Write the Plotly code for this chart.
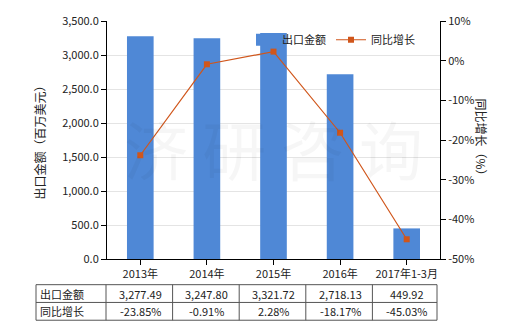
import plotly.graph_objects as go

categories = ["2013年", "2014年", "2015年", "2016年", "2017年1-3月"]
export_values = [3277.49, 3247.80, 3321.72, 2718.13, 449.92]
growth_values = [-23.85, -0.91, 2.28, -18.17, -45.03]
export_labels = ["3,277.49", "3,247.80", "3,321.72", "2,718.13", "449.92"]
growth_labels = ["-23.85%", "-0.91%", "2.28%", "-18.17%", "-45.03%"]
y_ticks = [0, 500, 1000, 1500, 2000, 2500, 3000, 3500]
y_tick_text = ["0.0", "500.0", "1,000.0", "1,500.0", "2,000.0", "2,500.0", "3,000.0", "3,500.0"]
y2_ticks = [-50, -40, -30, -20, -10, 0, 10]
y2_tick_text = ["-50%", "-40%", "-30%", "-20%", "-10%", "0%", "10%"]
row_names = ["出口金额", "同比增长"]

FONT = "Noto Sans CJK SC"
W, H = 520, 330
ML, MR, MT, MB = 107, 80, 18, 71
pw, ph = W - ML - MR, H - MT - MB

def px_x(x):
    return (x - ML) / pw

def px_y(y):
    return 1 - (y - MT) / ph

fig = go.Figure()
fig.add_trace(go.Bar(x=categories, y=export_values, name="出口金额",
                     marker=dict(color="#4f88d6", line=dict(width=0)),
                     width=0.4, yaxis="y"))
fig.add_trace(go.Scatter(x=categories, y=growth_values, name="同比增长",
                         mode="lines+markers", yaxis="y2",
                         line=dict(color="#d0561b", width=1.2),
                         marker=dict(symbol="square", size=6, color="#d0561b")))

shapes = []
annotations = []
tx0, tx1 = 36, 437
col_first = 106
rows_y = [285, 303, 321]
line_col = "#555555"
for yy in rows_y:
    shapes.append(dict(type="line", xref="paper", yref="paper",
                       x0=px_x(tx0), x1=px_x(tx1), y0=px_y(yy), y1=px_y(yy),
                       line=dict(color=line_col, width=1)))
col_lines = [tx0, col_first] + [col_first + pw * (i + 1) / len(categories) for i in range(len(categories) - 1)] + [tx1]
for xx in col_lines:
    shapes.append(dict(type="line", xref="paper", yref="paper",
                       x0=px_x(xx), x1=px_x(xx), y0=px_y(rows_y[0]), y1=px_y(rows_y[-1]),
                       line=dict(color=line_col, width=1)))

for r, (name, labels) in enumerate(zip(row_names, [export_labels, growth_labels])):
    yc = px_y((rows_y[r] + rows_y[r + 1]) / 2)
    annotations.append(dict(x=px_x(tx0 + 2), y=yc, xref="paper", yref="paper",
                            text=name, showarrow=False, xanchor="left", yanchor="middle",
                            font=dict(size=11, color="#222", family=FONT)))
    for c, lab in zip(categories, labels):
        annotations.append(dict(x=c, y=yc, xref="x", yref="paper", text=lab,
                                showarrow=False, xanchor="center", yanchor="middle",
                                font=dict(size=11, color="#222", family=FONT)))

annotations.append(dict(x=px_x(28), y=0.5, xref="paper", yref="paper",
                        text="出口金额（百万美元）", textangle=-90, showarrow=False,
                        font=dict(size=12, color="#222", family=FONT)))
annotations.append(dict(x=px_x(492), y=0.5, xref="paper", yref="paper",
                        text="同比增长（%）", textangle=90, showarrow=False,
                        font=dict(size=12, color="#222", family=FONT)))
annotations.append(dict(x=0.5, y=0.47, xref="paper", yref="paper",
                        text="济 研 咨 询", showarrow=False,
                        font=dict(size=64, color="rgba(0,0,0,0.035)", family=FONT)))

fig.update_layout(
    width=W, height=H,
    margin=dict(l=ML, r=MR, t=MT, b=MB),
    paper_bgcolor="white", plot_bgcolor="white",
    font=dict(family=FONT, size=11, color="#222"),
    showlegend=True,
    legend=dict(orientation="h", x=px_x(242), y=px_y(37), xanchor="left", yanchor="middle",
                bgcolor="rgba(0,0,0,0)", font=dict(size=11), itemwidth=30,
                tracegroupgap=0),
    xaxis=dict(showline=True, linecolor="black", ticks="outside", ticklen=5,
               tickcolor="black", showgrid=False, tickfont=dict(size=11)),
    yaxis=dict(range=[0, 3500], tickvals=y_ticks, ticktext=y_tick_text,
               showline=True, linecolor="black", ticks="outside", ticklen=5,
               tickcolor="black", gridcolor="#e4e4e4", zeroline=False,
               tickfont=dict(size=11)),
    yaxis2=dict(range=[-50, 10], tickvals=y2_ticks, ticktext=y2_tick_text, overlaying="y",
                side="right", showline=True, linecolor="black", ticks="outside",
                ticklen=5, tickcolor="black", showgrid=False, zeroline=False,
                tickfont=dict(size=11)),
    shapes=shapes, annotations=annotations,
)

fig.write_html("out.html")
